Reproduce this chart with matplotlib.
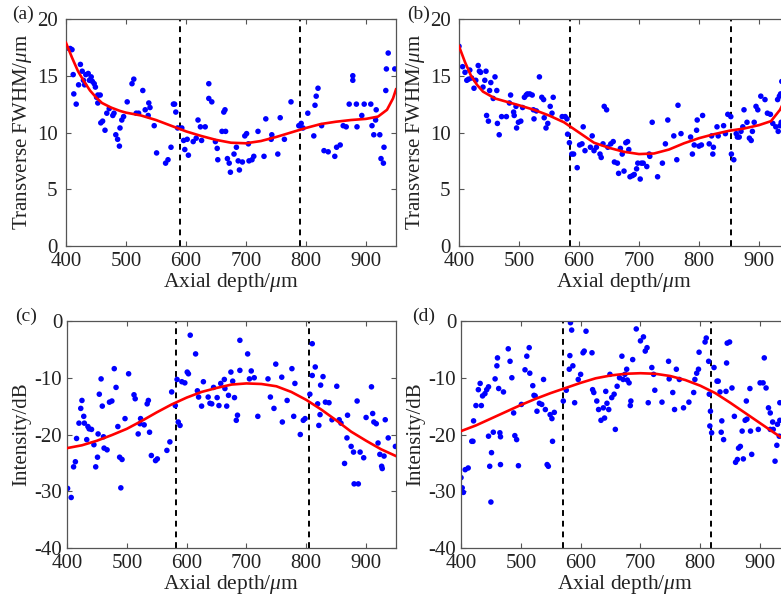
import matplotlib
matplotlib.use("Agg")
import matplotlib.pyplot as plt

plt.rcParams['font.family'] = ['Liberation Serif', 'DejaVu Serif']
plt.rcParams['mathtext.fontset'] = 'custom'
plt.rcParams['mathtext.it'] = 'Liberation Serif:italic'
plt.rcParams['mathtext.rm'] = 'Liberation Serif'
plt.rcParams['axes.unicode_minus'] = False

# ---------------- data ----------------
x_ticks = [400, 500, 600, 700, 800, 900]
fwhm_ticks = [0, 5, 10, 15, 20]
db_ticks = [-40, -30, -20, -10, 0]

# panel (a)
a_x = [400, 407, 410, 412, 413, 417, 421, 424, 427, 429, 431, 433, 437, 439, 442, 444, 447, 449, 451, 453,
       453, 457, 458, 461, 465, 468, 472, 478, 480, 483, 486, 489, 490, 493, 496, 502, 510, 513, 517, 521,
       528, 532, 537, 538, 540, 547, 551, 566, 570, 575, 579, 581, 583, 586, 593, 596, 598, 602, 604, 612,
       617, 620, 624, 626, 632, 638, 638, 643, 649, 652, 653, 660, 663, 665, 666, 669, 672, 674, 680, 684,
       687, 689, 694, 698, 701, 704, 705, 710, 713, 720, 730, 733, 742, 743, 753, 757, 764, 775, 788, 792,
       795, 803, 813, 815, 817, 820, 826, 830, 837, 848, 851, 857, 862, 867, 872, 878, 878, 884, 885, 893,
       897, 908, 910, 913, 916, 917, 923, 925, 929, 930, 933, 934, 937, 948]
a_y = [17.4, 17.4, 17.3, 15.1, 13.4, 12.5, 14.2, 16.0, 15.4, 14.6, 14.2, 15.1, 15.2, 14.6, 14.9, 14.5, 14.3, 14.0, 13.1, 13.3,
       12.6, 13.3, 10.85, 11.0, 10.2, 11.7, 12.1, 11.5, 11.7, 9.8, 9.4, 8.8, 10.4, 11.1, 11.4, 12.7, 14.3, 14.7, 11.7, 11.7,
       13.7, 12.0, 11.5, 12.6, 12.2, 10.6, 8.2, 7.3, 7.6, 8.7, 12.5, 12.5, 11.8, 10.4, 10.4, 9.3, 8.5, 9.4, 8.0, 9.2,
       9.5, 11.1, 10.5, 9.3, 10.5, 14.3, 13.0, 12.7, 9.2, 8.6, 7.6, 10.1, 11.8, 12.0, 10.1, 7.7, 7.3, 6.5, 8.1, 8.7,
       7.5, 6.7, 7.4, 9.7, 9.9, 9.0, 7.5, 7.6, 7.9, 10.1, 7.9, 11.2, 9.4, 9.8, 8.1, 11.3, 9.4, 12.7, 10.6, 10.8,
       10.4, 11.7, 9.7, 12.4, 13.2, 13.9, 10.6, 8.4, 8.3, 7.9, 8.7, 8.9, 10.6, 10.5, 12.5, 14.6, 15.0, 12.5, 10.5, 11.5,
       12.5, 12.5, 10.6, 9.8, 11.1, 12.0, 9.8, 7.7, 7.3, 8.7, 13.7, 15.6, 17.0, 15.6]
a_fit_x = [400, 410, 420, 430, 440, 450, 460, 475, 490, 500, 525, 550, 575, 600, 625, 650, 675, 700,
           725, 750, 775, 800, 825, 850, 875, 900, 920, 935, 945, 950]
a_fit_y = [17.9, 16.6, 15.4, 14.5, 13.7, 13.1, 12.6, 12.2, 11.9, 11.75, 11.5, 11.1, 10.6, 10.1, 9.7, 9.35, 9.1, 9.05,
           9.25, 9.6, 10.0, 10.4, 10.75, 10.95, 11.1, 11.2, 11.4, 12.0, 13.0, 13.8]
a_vlines = [590, 790]

# panel (b)
b_x = [400, 406, 410, 413, 416, 418, 421, 425, 428, 432, 434, 436, 440, 443, 445, 446, 449, 451, 453, 457,
       460, 463, 464, 467, 471, 479, 484, 486, 491, 492, 495, 496, 499, 503, 506, 509, 512, 514, 518, 522,
       524, 525, 529, 534, 538, 541, 542, 545, 548, 552, 555, 557, 572, 577, 580, 581, 584, 588, 591, 597,
       601, 605, 607, 610, 619, 622, 625, 629, 635, 637, 640, 642, 646, 648, 653, 657, 659, 664, 666, 669,
       672, 675, 678, 681, 683, 685, 689, 692, 696, 698, 702, 704, 707, 713, 717, 718, 722, 731, 739, 744,
       748, 758, 763, 765, 770, 786, 789, 792, 796, 797, 800, 804, 806, 817, 821, 823, 824, 830, 832, 841,
       844, 848, 853, 854, 858, 862, 864, 867, 870, 873, 875, 880, 884, 887, 889, 892, 895, 898, 903, 910,
       914, 919, 923, 928, 931, 932, 934, 935, 936, 937, 938]
b_y = [17.6, 15.8, 15.3, 14.6, 14.7, 15.5, 14.8, 13.9, 14.6, 15.9, 15.4, 15.3, 14.0, 14.6, 15.4, 11.5, 11.0, 13.7, 14.4, 13.0,
       14.9, 13.7, 10.8, 9.8, 11.4, 11.4, 12.6, 13.3, 11.8, 11.5, 12.3, 10.4, 10.9, 11.0, 12.2, 13.1, 13.3, 13.4, 13.4, 13.3,
       12.0, 11.2, 11.9, 14.9, 13.1, 12.9, 11.3, 10.4, 10.8, 12.3, 11.7, 13.1, 11.4, 11.4, 11.2, 9.85, 9.1, 8.1, 8.1, 6.9,
       8.9, 9.0, 10.5, 8.4, 8.7, 9.7, 8.4, 8.7, 8.1, 7.8, 9.0, 12.3, 12.0, 8.7, 9.0, 9.2, 7.4, 7.3, 6.4, 8.6,
       8.1, 6.6, 9.1, 9.2, 8.5, 6.1, 6.2, 6.3, 6.8, 7.3, 5.9, 7.3, 7.3, 7.0, 8.1, 7.9, 10.9, 6.1, 7.3, 9.0,
       11.1, 9.7, 7.6, 12.4, 9.9, 9.6, 8.1, 8.9, 10.2, 11.1, 8.8, 8.9, 11.5, 9.0, 9.7, 8.1, 8.7, 10.5, 9.7, 10.6,
       9.9, 11.6, 11.4, 8.1, 7.6, 9.9, 9.6, 9.6, 10.1, 10.5, 12.0, 10.9, 9.5, 9.3, 10.1, 10.9, 12.3, 12.0, 13.2, 12.9,
       11.7, 11.6, 10.8, 10.5, 12.9, 10.1, 13.2, 10.6, 13.4, 10.9, 14.5]
b_fit_x = [400, 410, 420, 430, 440, 460, 480, 500, 525, 550, 575, 600, 625, 650, 675, 700,
           725, 750, 775, 800, 825, 850, 875, 900, 920, 935, 950]
b_fit_y = [17.6, 16.2, 15.0, 14.2, 13.6, 13.0, 12.7, 12.4, 12.0, 11.5, 10.9, 10.0, 9.1, 8.65, 8.3, 8.1,
           8.15, 8.5, 9.05, 9.5, 9.85, 10.15, 10.35, 10.65, 11.0, 12.0, 13.6]
b_vlines = [585, 853]

# panel (c)
c_x = [401, 407, 411, 414, 416, 420, 423, 425, 428, 429, 433, 435, 437, 441, 445, 448, 451, 452, 454, 457,
       459, 461, 462, 467, 471, 475, 479, 482, 485, 488, 490, 492, 497, 503, 512, 514, 519, 522, 523, 529,
       534, 536, 538, 541, 548, 551, 567, 572, 575, 581, 584, 586, 589, 592, 597, 601, 603, 606, 615, 618,
       620, 625, 628, 636, 639, 642, 645, 651, 654, 657, 663, 664, 667, 670, 674, 677, 680, 683, 685, 689,
       689, 702, 705, 708, 713, 719, 736, 740, 746, 749, 759, 760, 768, 776, 779, 781, 790, 795, 798, 806,
       810, 810, 815, 819, 821, 823, 824, 828, 832, 838, 843, 851, 855, 858, 864, 868, 869, 875, 879, 880,
       885, 887, 890, 896, 900, 909, 911, 913, 917, 920, 923, 926, 927, 930, 932, 937, 949]
c_y = [-29.5, -31.1, -25.7, -24.8, -20.7, -18.0, -15.4, -14.0, -16.8, -18.0, -20.9, -18.6, -19.0, -19.1, -21.8, -25.7, -24.0, -19.9, -12.9, -10.2,
       -15.0, -20.4, -22.4, -22.7, -14.3, -14.1, -8.4, -11.7, -18.6, -24.0, -29.4, -24.4, -17.2, -9.3, -13.0, -13.7, -19.9, -18.1, -17.2, -18.3,
       -14.6, -14.0, -19.6, -23.7, -24.6, -24.3, -22.8, -21.3, -12.5, -14.9, -10.3, -17.8, -18.4, -10.7, -10.9, -9.0, -9.3, -2.5, -5.8, -12.3,
       -13.4, -15.0, -10.7, -13.4, -14.5, -14.6, -11.7, -13.5, -14.9, -11.0, -10.3, -11.9, -15.0, -13.1, -9.0, -10.6, -13.5, -17.5, -16.6, -3.4,
       -8.7, -5.8, -10.2, -8.8, -10.0, -16.8, -10.2, -13.4, -15.4, -7.6, -9.9, -17.8, -14.0, -8.4, -16.8, -11.0, -20.0, -17.5, -17.2, -12.9,
       -4.0, -9.6, -8.1, -14.6, -18.4, -16.5, -11.3, -9.8, -14.3, -14.4, -17.4, -11.5, -17.4, -18.0, -25.1, -20.6, -16.6, -22.1, -23.1, -28.7,
       -14.1, -28.7, -23.1, -24.1, -17.0, -11.6, -16.3, -17.8, -18.1, -21.5, -23.5, -25.6, -26.0, -23.8, -17.4, -20.6, -22.1]
c_fit_x = [400, 425, 450, 475, 500, 525, 550, 575, 600, 625, 650, 675, 700, 725, 750, 775, 800, 825, 850, 875, 900, 925, 950]
c_fit_y = [-22.4, -21.9, -21.1, -20.1, -19.0, -17.6, -16.1, -14.7, -13.5, -12.5, -11.8, -11.2, -11.0, -11.1, -11.5, -12.5,
           -13.9, -15.6, -17.5, -19.5, -21.1, -22.6, -23.8]
c_vlines = [583, 805]

# panel (d)
d_x = [400, 402, 404, 407, 412, 418, 420, 421, 425, 429, 432, 434, 436, 440, 443, 446, 446, 448, 450, 451,
       454, 457, 460, 461, 463, 465, 466, 466, 471, 479, 482, 485, 488, 490, 493, 496, 501, 507, 510, 514,
       515, 520, 522, 524, 527, 531, 535, 538, 541, 544, 546, 549, 552, 553, 556, 571, 576, 581, 582, 583,
       585, 587, 590, 596, 600, 604, 606, 609, 619, 620, 622, 627, 630, 634, 638, 640, 642, 644, 647, 649,
       652, 656, 658, 661, 665, 669, 671, 674, 677, 678, 681, 683, 684, 687, 693, 700, 705, 708, 711, 713,
       719, 722, 724, 736, 747, 748, 754, 757, 760, 765, 772, 781, 789, 791, 794, 797, 798, 808, 810, 814,
       815, 816, 817, 819, 823, 828, 830, 833, 836, 835, 839, 843, 844, 845, 849, 853, 857, 859, 862, 864,
       867, 870, 872, 875, 878, 877, 883, 884, 886, 897, 900, 905, 907, 910, 914, 917, 917, 921, 922, 925,
       928, 929, 932, 933, 933]
d_y = [-27.6, -29.4, -30.2, -26.2, -25.9, -21.2, -21.2, -17.6, -14.9, -12.1, -11.0, -14.9, -13.2, -12.8, -12.1, -11.6, -20.3, -25.6, -31.9, -23.2,
       -19.6, -10.2, -7.9, -6.5, -11.9, -19.7, -20.4, -25.3, -12.5, -4.9, -7.1, -10.0, -16.2, -20.2, -20.9, -25.5, -14.7, -8.6, -6.2, -4.7,
       -9.2, -11.4, -13.1, -13.2, -15.9, -14.5, -14.7, -10.3, -15.6, -25.3, -25.6, -16.5, -17.2, -21.2, -16.1, -14.1, -12.2, -8.5, -6.1, -0.3,
       -1.6, -7.9, -14.4, -10.3, -9.4, -5.6, -5.3, -1.8, -5.6, -12.1, -12.6, -14.1, -15.6, -17.5, -15.3, -17.1, -12.4, -14.5, -15.6, -9.4,
       -13.5, -12.9, -19.1, -11.5, -10.0, -6.2, -10.3, -9.4, -8.5, -10.4, -10.9, -14.9, -14.1, -6.8, -1.4, -3.5, -2.8, -5.3, -4.7, -14.4,
       -8.2, -9.4, -12.2, -14.3, -7.1, -10.2, -12.6, -15.6, -8.5, -10.3, -15.3, -14.3, -12.6, -10.3, -9.2, -8.5, -5.5, -3.7, -3.0, -7.1,
       -12.9, -18.5, -15.9, -19.7, -8.2, -10.6, -10.6, -12.5, -17.6, -19.6, -20.9, -12.4, -7.4, -3.9, -3.7, -11.8, -16.8, -24.9, -24.4, -22.4,
       -22.1, -19.4, -24.3, -17.5, -17.3, -14.1, -11.9, -19.4, -23.5, -19.1, -10.9, -10.9, -6.5, -11.8, -15.3, -16.2, -19.1, -17.8, -19.1, -24.7,
       -21.9, -18.2, -20.3, -14.4, -17.5]
d_fit_x = [400, 425, 450, 475, 500, 525, 550, 575, 600, 625, 650, 675, 700, 725, 750, 775, 800, 825, 850, 875, 900, 925, 950]
d_fit_y = [-19.4, -18.4, -17.2, -16.0, -14.8, -13.7, -12.7, -11.8, -10.9, -10.1, -9.6, -9.3, -9.2, -9.3, -9.7, -10.4,
           -11.4, -12.7, -14.4, -16.2, -18.0, -19.8, -21.5]
d_vlines = [570, 818]

panels = [
    ("(a)", a_x, a_y, a_fit_x, a_fit_y, a_vlines, (0, 20), fwhm_ticks, "Transverse FWHM/$\\mathit{\\mu}$m"),
    ("(b)", b_x, b_y, b_fit_x, b_fit_y, b_vlines, (0, 20), fwhm_ticks, "Transverse FWHM/$\\mathit{\\mu}$m"),
    ("(c)", c_x, c_y, c_fit_x, c_fit_y, c_vlines, (-40, 0), db_ticks, "Intensity/dB"),
    ("(d)", d_x, d_y, d_fit_x, d_fit_y, d_vlines, (-40, 0), db_ticks, "Intensity/dB"),
]

W, H = 781, 600
rects_px = [(66, 19, 330, 227), (459, 19, 330, 227), (67, 321, 329, 227), (461, 321, 329, 227)]
label_left_px = [12, 407, 15, 412]
ytick_pads = [6, 6, 3.5, 3.5]

fig = plt.figure(figsize=(W / 100, H / 100), dpi=100)
spine_col = '#555555'
text_col = '#222222'

for (lab, xs, ys, fx, fy, vl, ylim, yt, ylab), (l, t, w, h), lx, yp in zip(panels, rects_px, label_left_px, ytick_pads):
    ax = fig.add_axes([l / W, (H - t - h) / H, w / W, h / H])
    for v in vl:
        ax.axvline(v, color='black', lw=1.4, ls=(0, (3, 2.5)), zorder=1)
    ax.scatter(xs, ys, s=16, color='#0000ff', edgecolors='none', zorder=2)
    ax.plot(fx, fy, color='#ff0000', lw=1.9, zorder=3)
    ax.set_xlim(400, 950)
    ax.set_ylim(*ylim)
    ax.set_xticks(x_ticks)
    ax.set_yticks(yt)
    ax.tick_params(direction='in', top=True, right=True, length=3.5, width=0.8,
                   colors=spine_col, labelcolor=text_col, labelsize=15)
    ax.tick_params(axis='x', pad=4.5)
    ax.tick_params(axis='y', pad=yp)
    for sp in ax.spines.values():
        sp.set_color(spine_col)
        sp.set_linewidth(0.9)
    ax.set_xlabel("Axial depth/$\\mathit{\\mu}$m", fontsize=15.5, color=text_col, labelpad=0)
    ax.set_ylabel(ylab, fontsize=15, color=text_col, labelpad=2)
    fig.text(lx / W, (H - t + 5) / H, lab, fontsize=14, color=text_col,
             ha='left', va='center')

fig.savefig("out.png", dpi=100)
